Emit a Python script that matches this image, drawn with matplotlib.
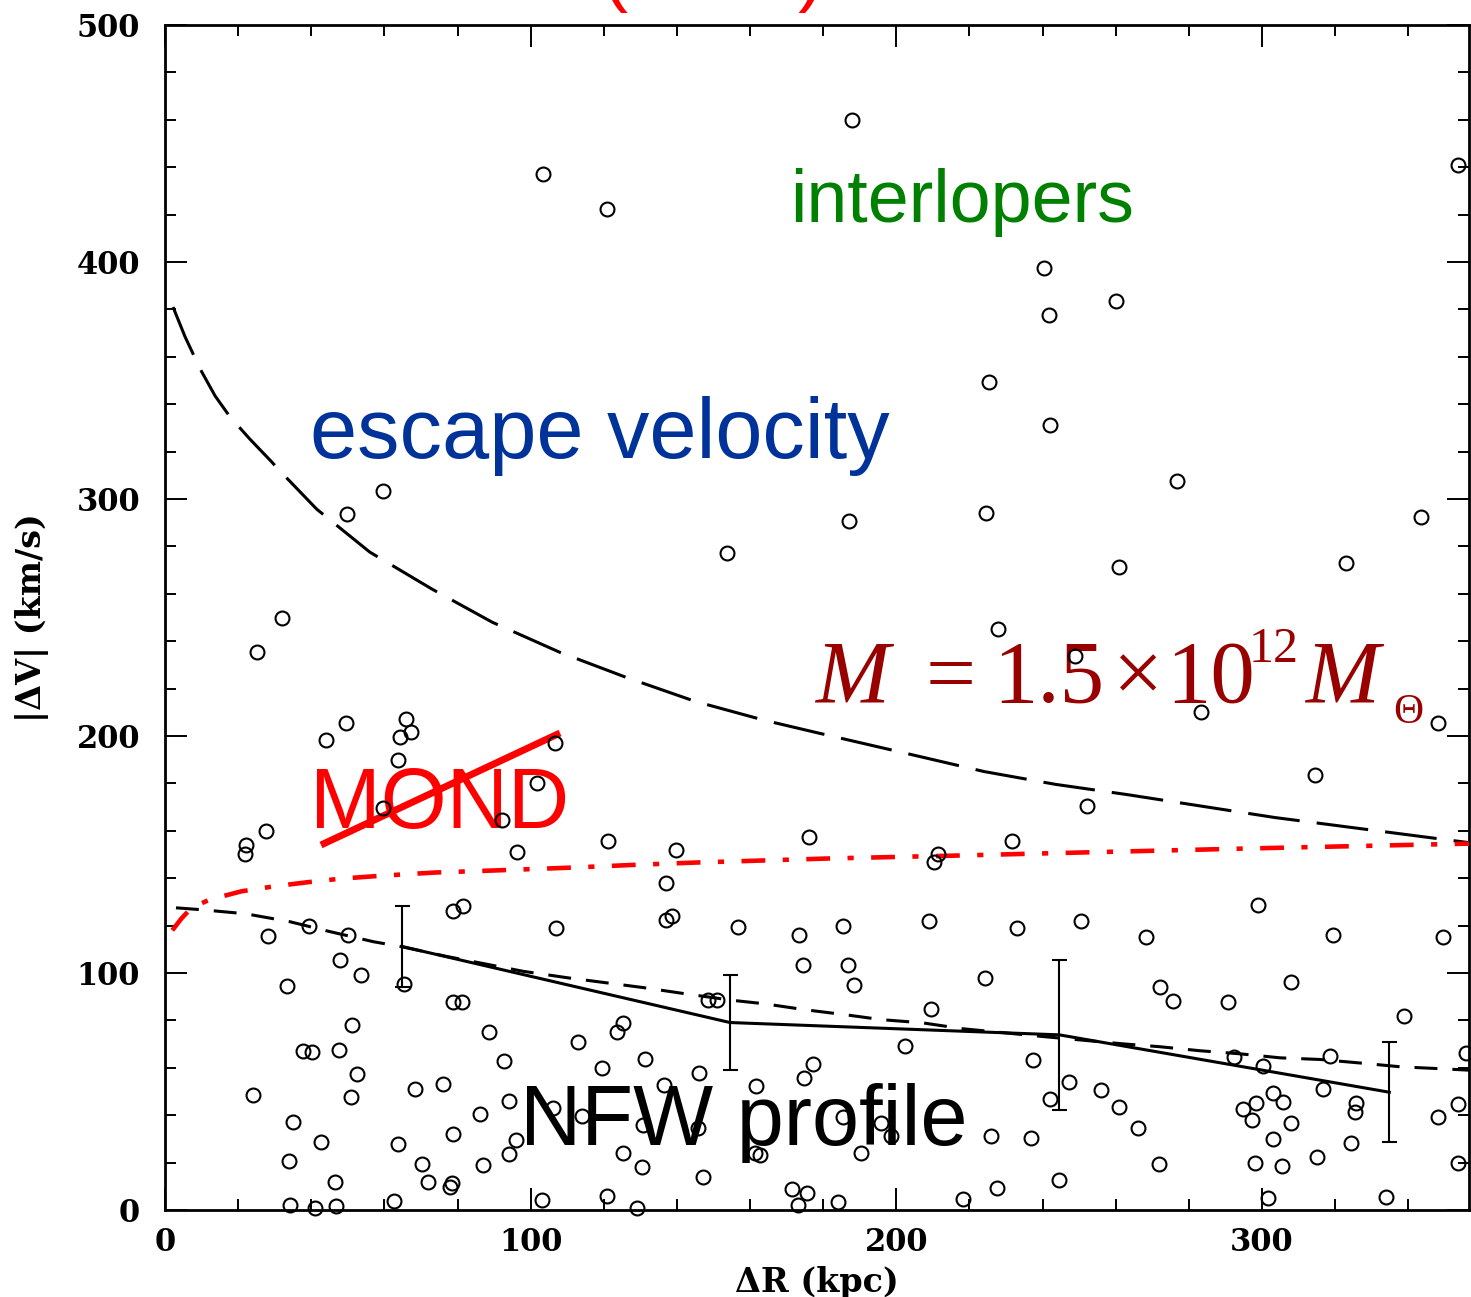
import matplotlib
matplotlib.use("Agg")
import matplotlib.pyplot as plt

# Satellite separations (kpc) and |velocity differences| (km/s)
dR = [187.9, 103.4, 120.9, 353.7, 240.3, 260.0, 241.7, 225.4, 242.1,
      59.7, 49.7, 153.6, 32.1, 25.2, 49.5, 44.1, 66.0, 67.2, 64.3, 63.7,
      106.6, 101.8, 59.7, 92.1, 27.5, 22.1, 21.9, 121.2, 176.2,
      276.7, 187.1, 224.4, 343.4, 260.9, 323.0, 227.7, 248.9, 283.2, 348.2,
      252.1, 314.5, 231.5,
      96.3, 28.2, 39.4, 50.1, 78.7, 81.4, 106.8, 47.9, 53.5, 33.4, 65.4,
      78.8, 81.1, 51.2, 88.6, 113.0, 37.8, 40.1, 47.7, 92.7, 119.4, 52.6,
      24.1, 51.0, 68.4, 75.9, 94.2, 106.2, 113.9, 86.1, 34.9, 78.7, 42.7,
      63.6, 95.9, 94.2, 33.9, 70.4, 86.9, 46.5, 72.0, 78.4, 77.9, 34.2,
      41.0, 46.8, 62.7, 103.0,
      139.7, 211.5, 210.4, 137.0, 137.0, 138.6, 156.6, 173.4, 185.5, 208.9,
      232.9, 174.6, 186.8, 188.5, 224.2, 148.6, 150.9, 209.5, 125.3, 123.5,
      131.3, 202.5, 177.3, 174.8, 146.1, 136.5, 161.6, 237.3, 130.8, 145.8,
      185.5, 195.8, 198.5, 225.9, 236.8, 161.3, 162.7, 190.3, 125.3, 130.4,
      147.0, 121.0, 129.0, 171.4, 175.5, 173.0, 184.1, 218.1, 227.4,
      298.8, 250.5, 268.4, 319.3, 349.5, 307.9, 272.1, 275.6, 290.6, 338.9,
      355.8, 292.4, 318.6, 300.2, 247.3, 242.0, 256.1, 261.0, 266.2, 316.6,
      303.1, 305.6, 298.3, 294.9, 297.2, 307.9, 325.6, 325.4, 353.5, 348.0,
      303.1, 324.3, 314.9, 271.9, 298.0, 305.5, 353.7, 244.5, 301.7, 333.9]
dV = [459.8, 437.3, 422.2, 440.8, 397.4, 383.7, 377.7, 349.5, 331.2,
      303.5, 293.6, 277.4, 249.7, 235.6, 205.6, 198.3, 207.3, 201.7, 199.5, 189.7,
      196.9, 180.0, 169.7, 164.5, 159.8, 153.8, 150.4, 155.5, 157.3,
      307.7, 290.8, 294.0, 292.2, 271.1, 273.2, 245.3, 233.8, 210.1, 205.3,
      170.4, 183.4, 155.5,
      151.0, 115.8, 119.7, 116.2, 126.0, 128.1, 119.0, 105.6, 99.3, 94.6, 95.5,
      87.7, 87.7, 77.9, 75.3, 70.8, 67.2, 66.5, 67.3, 62.7, 59.9, 57.3,
      48.6, 47.6, 51.0, 53.2, 45.8, 43.0, 39.7, 40.6, 37.3, 32.0, 28.9,
      27.8, 29.6, 23.7, 20.7, 19.4, 19.0, 12.0, 12.0, 11.3, 9.6, 2.1,
      0.7, 1.7, 3.8, 4.2,
      152.1, 150.4, 146.7, 138.0, 122.5, 123.9, 119.3, 116.2, 119.7, 121.8,
      119.0, 103.5, 103.2, 94.8, 97.9, 88.4, 88.7, 84.8, 78.9, 75.3,
      63.8, 69.0, 61.7, 55.9, 57.8, 52.8, 52.5, 63.1, 35.9, 34.5,
      39.4, 36.6, 31.3, 31.3, 30.5, 24.0, 23.2, 24.0, 24.0, 18.3,
      14.1, 6.0, 0.9, 8.7, 7.0, 2.3, 3.5, 4.5, 9.4,
      128.9, 122.1, 115.2, 116.2, 115.2, 96.0, 93.9, 88.0, 87.7, 81.7,
      66.2, 64.5, 64.8, 60.8, 54.2, 46.9, 50.7, 43.6, 34.5, 51.0,
      49.3, 45.5, 45.3, 42.5, 38.0, 36.9, 45.3, 41.5, 44.8, 39.4,
      30.0, 28.2, 22.5, 19.4, 19.7, 18.6, 19.7, 12.7, 5.2, 5.6]

# Escape velocity curve
esc_R = [2.2, 5.5, 9.6, 13.7, 17.8, 23.2, 28.9, 31.7, 41.5, 56, 73, 89.5,
         108, 126, 145, 164, 178, 204, 224, 243.5, 263, 303.5, 343.5, 356.6]
esc_V = [381, 368.4, 354.9, 343.5, 334.6, 325.3, 316.1, 311.4, 295.7, 277.6,
         262, 248, 235.3, 224.8, 214.6, 206.6, 201.5, 192.2, 185, 179.6,
         175.3, 165.6, 157.6, 155]

# NFW prediction (dashed)
nfw_R = [3, 10, 22, 34, 45, 57, 65, 77, 98, 110, 120, 131, 142, 155, 164,
         175, 186, 196, 207, 218, 240, 262, 272, 283, 294, 305, 316, 327,
         338, 349, 356.6]
nfw_V = [127.5, 126.7, 125, 121.7, 117.5, 113.2, 111, 107, 100.7, 98, 96,
         93.8, 91.3, 88.5, 87, 84.5, 82.4, 80.3, 79, 76.5, 73.2, 70.1, 68.9,
         67.2, 65.9, 64.2, 63.5, 62, 60.4, 59.6, 59]

# MOND prediction (dash-dot)
mond_R = [2, 4.5, 7.3, 12.3, 21, 30, 39, 48, 57, 66, 74, 92.5, 110, 128,
          145, 181, 218, 236, 295, 356.6]
mond_V = [118, 123, 127.6, 131, 134.5, 136.6, 138.3, 139.8, 140.8, 141.7,
          142.4, 143.4, 144.4, 145.6, 146.6, 148.3, 149.6, 150.3, 152.5, 154.6]

# Binned velocity dispersion with errors
bin_R = [64.8, 154.5, 244.6, 334.8]
bin_V = [111.2, 79.1, 73.9, 49.7]
bin_err = [17, 20, 31.5, 21]

W, H = 1471, 1297
fig = plt.figure(figsize=(W / 100, H / 100), dpi=100)
fig.patch.set_facecolor("white")


def fx(px):
    return px / W


def fy(py):
    return 1 - py / H


ax = fig.add_axes([fx(165), fy(1210), fx(1469) - fx(165), fy(25) - fy(1210)])
ax.set_xlim(0, 356.6)
ax.set_ylim(0, 500)

ax.plot(dR, dV, "o", ms=10, mfc="none", mec="black", mew=1.5, zorder=4,
        clip_on=False)

ax.plot(esc_R, esc_V, color="black", lw=2.2, dashes=(17, 5.6), zorder=3)
ax.plot(nfw_R, nfw_V, color="black", lw=2.2, dashes=(7.5, 4.9), zorder=3)
ax.plot(mond_R, mond_V, color="#ff0000", lw=3.3,
        dashes=(5.2, 3.8, 1.35, 3.8), zorder=3)
ax.plot(bin_R, bin_V, color="black", lw=2.2, zorder=3)
ax.errorbar(bin_R, bin_V, yerr=bin_err, fmt="none", ecolor="black",
            elinewidth=1.5, capsize=5.4, capthick=1.5, zorder=3)

ax.set_xticks([0, 100, 200, 300])
ax.set_xticks(range(0, 357, 20), minor=True)
ax.set_yticks(range(0, 501, 100))
ax.set_yticks(range(0, 501, 20), minor=True)
ax.tick_params(which="both", direction="in", top=True, right=True,
               width=1.4, color="black")
ax.tick_params(which="major", length=16)
ax.tick_params(which="minor", length=8)
ax.tick_params(axis="x", which="major", pad=12)
ax.tick_params(axis="y", which="major", pad=18)
for lab in ax.get_xticklabels() + ax.get_yticklabels():
    lab.set_fontfamily("DejaVu Serif")
    lab.set_fontweight("bold")
    lab.set_fontsize(22)
for sp in ax.spines.values():
    sp.set_linewidth(2.0)

ax.set_xlabel("ΔR (kpc)", fontsize=24, fontweight="bold",
              family="DejaVu Serif", labelpad=6)
ax.set_ylabel("|ΔV| (km/s)", fontsize=24, fontweight="bold",
              family="DejaVu Serif", labelpad=20)

tf = fig.transFigure
sans = ["Liberation Sans", "DejaVu Sans"]
serif = ["Liberation Serif", "DejaVu Serif"]


def label(px, py, s, size, color, family=sans, style="normal"):
    ax.text(fx(px), fy(py), s, transform=tf, color=color, fontsize=size,
            family=family, style=style, va="baseline", ha="left", zorder=1)


label(212, -3, "Prada et al (2003)", 55, "#ff0000")
label(790, 222, "interlopers", 53, "#008000")
label(310, 458, "escape velocity", 61, "#003399")
label(310, 828, "MOND", 61, "#ff0000")
ax.plot([fx(321), fx(560)], [fy(845), fy(733)], transform=tf,
        color="#ff0000", lw=5, solid_capstyle="butt", clip_on=False, zorder=1)
label(520, 1145, "NFW profile", 61, "black")

# Halo mass annotation
red = "#990000"
label(815, 702, "M", 64, red, serif, "italic")
label(926, 702, "=", 64, red, serif)
label(993, 702, "1.5", 64, red, serif)
label(1113, 702, "×", 64, red, serif)
label(1166, 702, "10", 64, red, serif)
label(1249, 662, "12", 36, red, serif)
label(1305, 702, "M", 64, red, serif, "italic")
label(1393, 723, "Θ", 30, red, serif)

fig.savefig("out.png", dpi=100, facecolor="white")
